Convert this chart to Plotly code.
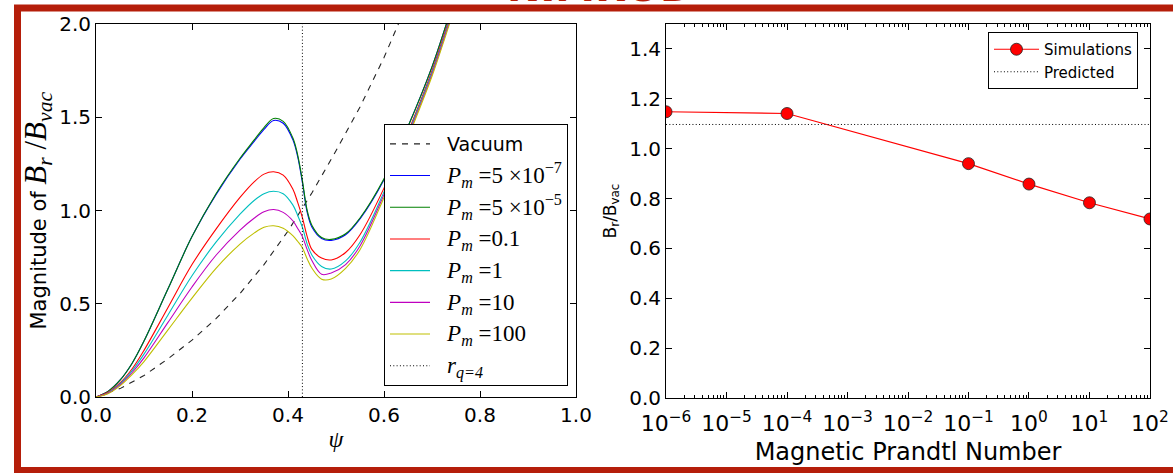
import plotly.graph_objects as go

W, H = 1173, 473

# ---------------- data: left panel ----------------
psi = [0, 0.025, 0.05, 0.075, 0.1, 0.15, 0.2, 0.25, 0.3, 0.33, 0.35, 0.37, 0.39, 0.41,
       0.42, 0.43, 0.44, 0.45, 0.47, 0.49, 0.52, 0.55, 0.6, 0.65, 0.7, 0.73, 0.76]

pm_5e7 = [0, 0.03, 0.09, 0.18, 0.30, 0.58, 0.86, 1.085, 1.275, 1.372, 1.435, 1.483, 1.468, 1.38,
          1.29, 1.15, 0.99, 0.91, 0.85, 0.84, 0.87, 0.955, 1.165, 1.45, 1.77, 2.0, 2.24]
pm_5e5 = [0, 0.03, 0.09, 0.18, 0.30, 0.58, 0.86, 1.09, 1.28, 1.38, 1.445, 1.493, 1.478, 1.39,
          1.30, 1.16, 1.00, 0.92, 0.855, 0.845, 0.875, 0.96, 1.17, 1.45, 1.77, 2.0, 2.24]
pm_0p1 = [0, 0.025, 0.075, 0.15, 0.25, 0.48, 0.71, 0.90, 1.07, 1.155, 1.195, 1.208, 1.19, 1.115,
          1.045, 0.962, 0.86, 0.79, 0.745, 0.735, 0.775, 0.87, 1.12, 1.42, 1.75, 1.98, 2.22]
pm_1 = [0, 0.022, 0.07, 0.14, 0.23, 0.44, 0.65, 0.83, 0.98, 1.055, 1.09, 1.103, 1.09, 1.03,
        0.975, 0.91, 0.82, 0.76, 0.70, 0.686, 0.73, 0.83, 1.10, 1.41, 1.74, 1.97, 2.21]
pm_10 = [0, 0.02, 0.065, 0.13, 0.21, 0.40, 0.59, 0.76, 0.895, 0.96, 0.993, 1.005, 0.99, 0.945,
         0.905, 0.86, 0.79, 0.73, 0.658, 0.665, 0.71, 0.81, 1.085, 1.40, 1.73, 1.96, 2.2]
pm_100 = [0, 0.018, 0.06, 0.12, 0.19, 0.36, 0.53, 0.69, 0.82, 0.88, 0.91, 0.918, 0.905, 0.865,
          0.835, 0.80, 0.74, 0.69, 0.632, 0.633, 0.69, 0.79, 1.07, 1.39, 1.72, 1.95, 2.19]

vac_psi = [0, 0.05, 0.1, 0.15, 0.2, 0.25, 0.3, 0.35, 0.4, 0.45, 0.5, 0.55, 0.6, 0.65]
vac_val = [0, 0.045, 0.115, 0.205, 0.305, 0.42, 0.555, 0.71, 0.89, 1.095, 1.32, 1.555, 1.82, 2.12]

rq4_psi = [0.43, 0.43]
rq4_val = [0.0, 2.0]

# ---------------- data: right panel ----------------
prandtl = [1e-6, 1e-4, 0.1, 1, 10, 100]
ratio = [1.148, 1.141, 0.940, 0.858, 0.783, 0.718]
pred_x = [1e-6, 1e2]
pred_y = [1.097, 1.097]
log_ticks = [1e-6, 1e-5, 1e-4, 1e-3, 1e-2, 1e-1, 1e0, 1e1, 1e2]
log_labels = ["10<sup>−6</sup>", "10<sup>−5</sup>", "10<sup>−4</sup>", "10<sup>−3</sup>",
              "10<sup>−2</sup>", "10<sup>−1</sup>", "10<sup>0</sup>", "10<sup>1</sup>",
              "10<sup>2</sup>"]

SERIF = "Liberation Serif"
SANS = "DejaVu Sans"
PAD = "&nbsp;&nbsp;"


def m(s, size=23):
    return f'<span style="font-family:{SERIF};font-size:{size}px">{s}</span>'


fig = go.Figure()

fig.add_trace(go.Scatter(x=vac_psi, y=vac_val, mode="lines", name=PAD + "Vacuum",
                         line=dict(color="#222222", width=1.1, dash="6px,6px"),
                         legendgroup="g0", legend="legend"))
curves = [
    (pm_5e7, "#0000ff", m("<i>P<sub>m</sub></i> =5 ×10<sup>−7</sup>")),
    (pm_5e5, "#008000", m("<i>P<sub>m</sub></i> =5 ×10<sup>−5</sup>")),
    (pm_0p1, "#ff0000", m("<i>P<sub>m</sub></i> =0.1")),
    (pm_1, "#00bfbf", m("<i>P<sub>m</sub></i> =1")),
    (pm_10, "#bf00bf", m("<i>P<sub>m</sub></i> =10")),
    (pm_100, "#bfbf00", m("<i>P<sub>m</sub></i> =100")),
]
for i, (vals, col, nm) in enumerate(curves):
    fig.add_trace(go.Scatter(x=psi, y=vals, mode="lines", name=PAD + nm,
                             line=dict(color=col, width=1.1, shape="spline", smoothing=1.0),
                             legendgroup=f"g{i+1}", legend="legend"))
fig.add_trace(go.Scatter(x=rq4_psi, y=rq4_val, mode="lines",
                         name=PAD + m("<i>r<sub>q=4</sub></i>"),
                         line=dict(color="#000000", width=1, dash="1px,2.3px"),
                         legendgroup="g9", legend="legend"))

fig.add_trace(go.Scatter(x=prandtl, y=ratio, mode="lines+markers", name="Simulations",
                         line=dict(color="#ff0000", width=1.2),
                         marker=dict(size=12, color="#ff0000", line=dict(color="#222222", width=0.8)),
                         xaxis="x2", yaxis="y2", legend="legend2", legendgroup="h1"))
fig.add_trace(go.Scatter(x=pred_x, y=pred_y, mode="lines", name="Predicted",
                         line=dict(color="#000000", width=1, dash="1px,2.3px"),
                         xaxis="x2", yaxis="y2", legend="legend2", legendgroup="h2"))


def px(x):
    return x / W


def py(y):
    return 1 - y / H


axis_common = dict(showline=True, linecolor="black", linewidth=1, mirror="allticks",
                   ticks="inside", tickcolor="black", ticklen=6, tickwidth=1,
                   showgrid=False, zeroline=False, automargin=False)
tf = dict(family=SANS, size=20, color="black")

fig.update_layout(
    width=W, height=H, margin=dict(l=0, r=0, t=0, b=0, autoexpand=False),
    paper_bgcolor="white", plot_bgcolor="white",
    font=dict(family=SANS, color="black"),
    xaxis=dict(domain=[px(96), px(576)], range=[0, 1], dtick=0.2, tickformat=".1f",
               tickfont=tf,
               title=dict(text=m("<i>ψ</i>", 24), font=dict(size=24), standoff=4),
               anchor="y", **axis_common),
    yaxis=dict(domain=[py(397), py(24)], range=[0, 2], dtick=0.5, tickformat=".1f",
               tickfont=tf, anchor="x", **axis_common),
    xaxis2=dict(domain=[px(666), px(1150)], type="log", range=[-6.0005, 2.0005],
                tickmode="array", tickvals=log_ticks, ticktext=log_labels, tickangle=0,
                tickfont=dict(family=SANS, size=22, color="black"), ticklabelstandoff=6,
                minor=dict(ticks="inside", ticklen=3, tickcolor="black", dtick="D1", showgrid=False),
                title=dict(text="Magnetic Prandtl Number", font=dict(size=24), standoff=7),
                anchor="y2", **axis_common),
    yaxis2=dict(domain=[py(398), py(24)], range=[0, 1.5], dtick=0.2, tickformat=".1f",
                tickfont=tf,
                title=dict(text="B<sub>r</sub>/B<sub>vac</sub>", font=dict(size=17), standoff=8),
                anchor="x2", **axis_common),
    legend=dict(x=px(384), y=py(124), xanchor="left", yanchor="top",
                bgcolor="white", bordercolor="black", borderwidth=1,
                font=dict(family=SANS, size=19, color="black"),
                tracegroupgap=4, itemwidth=40),
    legend2=dict(x=px(988), y=py(32), xanchor="left", yanchor="top",
                 bgcolor="white", bordercolor="black", borderwidth=1,
                 font=dict(family=SANS, size=15, color="black"),
                 tracegroupgap=0, itemwidth=45),
    showlegend=True,
)

# left y-axis title
fig.add_annotation(text="Magnitude of " + m("<i>B<sub>r</sub></i> /<i>B<sub>vac</sub></i>", 31),
                   xref="paper", yref="paper", x=px(37), y=py(210.5),
                   xanchor="center", yanchor="middle", textangle=-90, showarrow=False,
                   font=dict(family=SANS, size=21, color="black"))

# frame and cut-off heading
RED = "#b51e0a"
fig.add_shape(type="rect", xref="paper", yref="paper",
              x0=px(17.5), x1=px(1190), y0=py(470.5), y1=py(8),
              line=dict(color=RED, width=7), fillcolor="rgba(0,0,0,0)", layer="above")
fig.add_annotation(text="<b>NIMROD</b>", xref="paper", yref="paper",
                   x=px(600), y=py(12.5), xanchor="center", yanchor="bottom",
                   showarrow=False, font=dict(family=SANS, size=40, color=RED))

fig.write_html("out.html")
